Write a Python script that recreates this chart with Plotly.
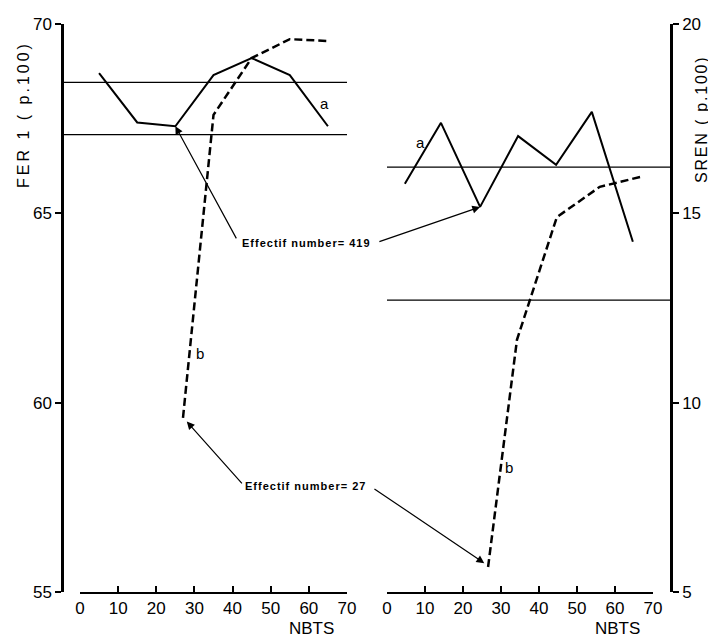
import plotly.graph_objects as go

# ---- data ----
left_x_a = [5, 15, 25, 35, 45, 55, 65]
left_a = [68.7, 67.4, 67.3, 68.65, 69.1, 68.65, 67.3]
left_x_b = [27, 35, 45, 55, 65]
left_b = [59.6, 67.6, 69.1, 69.6, 69.55]
left_refs = [68.46, 67.08]

right_x_a = [4.7, 14.2, 24.5, 34.5, 44.5, 53.9, 64.7]
right_a = [15.78, 17.39, 15.17, 17.04, 16.28, 17.68, 14.25]
right_x_b = [26.6, 34.2, 44.7, 56, 66.6]
right_b = [5.66, 11.66, 14.9, 15.7, 15.96]
right_refs = [16.22, 12.71]

x_ticks = [0, 10, 20, 30, 40, 50, 60, 70]
left_y_ticks = [55, 60, 65, 70]
right_y_ticks = [5, 10, 15, 20]

# ---- layout constants ----
# the page body has an 8px margin, so the figure is placed 8px in from the corner
OFF = 8
W, H = 716 - OFF, 637 - OFF


def px(x):
    return (x - OFF) / W


def py(y):
    return (H - (y - OFF)) / H


XD1 = [px(80), px(347)]
XD2 = [px(387), px(653)]
YD = [py(592), py(24)]
Y1POS = px(62)
Y2POS = px(671)

FONT = "Liberation Sans"
BLACK = "black"

fig = go.Figure()
solid = dict(color=BLACK, width=2)
dashed = dict(color=BLACK, width=2.5, dash="8px,4px")

fig.add_trace(go.Scatter(x=left_x_a, y=left_a, mode="lines", line=solid,
                         xaxis="x", yaxis="y", showlegend=False))
fig.add_trace(go.Scatter(x=left_x_b, y=left_b, mode="lines", line=dashed,
                         xaxis="x", yaxis="y", showlegend=False))
fig.add_trace(go.Scatter(x=right_x_a, y=right_a, mode="lines", line=solid,
                         xaxis="x2", yaxis="y2", showlegend=False))
fig.add_trace(go.Scatter(x=right_x_b, y=right_b, mode="lines", line=dashed,
                         xaxis="x2", yaxis="y2", showlegend=False))

shapes = []
for v in left_refs:
    shapes.append(dict(type="line", xref="paper", yref="y", x0=Y1POS, x1=XD1[1],
                       y0=v, y1=v, line=dict(color=BLACK, width=1.2)))
for v in right_refs:
    shapes.append(dict(type="line", xref="paper", yref="y2", x0=XD2[0], x1=Y2POS,
                       y0=v, y1=v, line=dict(color=BLACK, width=1.2)))

tickfont = dict(family=FONT, size=17, color=BLACK)
xax = dict(range=[0, 70], tickvals=x_ticks, ticks="inside", ticklen=6, tickwidth=2,
           tickcolor=BLACK, showline=True, linewidth=2, linecolor=BLACK,
           showgrid=False, zeroline=False, tickfont=tickfont, fixedrange=True,
           automargin=False)
yax = dict(showline=True, linewidth=2.5, linecolor=BLACK, ticks="outside", ticklen=6,
           tickwidth=2, tickcolor=BLACK, showgrid=False, zeroline=False,
           tickfont=tickfont, domain=YD, anchor="free", automargin=False,
           fixedrange=True)

lab = dict(family=FONT, size=15, color=BLACK)
eff = dict(family=FONT, size=11, color=BLACK, weight="bold")
titlefont = dict(family=FONT, size=16, color=BLACK)
nbtsfont = dict(family=FONT, size=17, color=BLACK)
arrow = dict(showarrow=True, arrowhead=2, arrowsize=1.3, arrowwidth=1.2,
             arrowcolor=BLACK, text="")
C = dict(xanchor="center", yanchor="middle", showarrow=False)

annotations = [
    # axis titles
    dict(text='<span style="letter-spacing:3px">FER 1 ( p.100)</span>', xref="paper",
         yref="paper", x=px(23), y=py(115), textangle=-90, font=titlefont, **C),
    dict(text='<span style="letter-spacing:1.8px">SREN ( p.100)</span>', xref="paper",
         yref="paper", x=px(701), y=py(120), textangle=-90, font=titlefont, **C),
    dict(text="NBTS", xref="paper", yref="paper", x=px(311), y=py(628),
         font=nbtsfont, **C),
    dict(text="NBTS", xref="paper", yref="paper", x=px(617), y=py(628),
         font=nbtsfont, **C),
    # series labels
    dict(text="a", xref="x", yref="y", x=64, y=67.9, font=lab, **C),
    dict(text="b", xref="x", yref="y", x=31.5, y=61.3, font=lab, **C),
    dict(text="a", xref="x2", yref="y2", x=8.7, y=16.86, font=lab, **C),
    dict(text="b", xref="x2", yref="y2", x=32, y=8.3, font=lab, **C),
    # effectif texts
    dict(text='<span style="letter-spacing:1px">Effectif number= 419</span>',
         xref="paper", yref="paper", x=px(240), y=py(243), xanchor="left",
         yanchor="middle", showarrow=False, font=eff),
    dict(text='<span style="letter-spacing:1px">Effectif number= 27</span>',
         xref="paper", yref="paper", x=px(243), y=py(486), xanchor="left",
         yanchor="middle", showarrow=False, font=eff),
    # arrows
    dict(xref="x", yref="y", x=left_x_a[2], y=left_a[2], axref="x", ayref="y",
         ax=41.2, ay=64.3, **arrow),
    dict(xref="x2", yref="y2", x=right_x_a[2], y=right_a[2], axref="x2", ayref="y2",
         ax=-2.4, ay=14.24, **arrow),
    dict(xref="x", yref="y", x=left_x_b[0] + 1, y=left_b[0] - 0.1, axref="x", ayref="y",
         ax=42.8, ay=57.83, **arrow),
    dict(xref="x2", yref="y2", x=right_x_b[0] - 1, y=right_b[0] + 0.1, axref="x2",
         ayref="y2", ax=-3.7, ay=7.75, **arrow),
]

fig.update_layout(
    template="none",
    width=W, height=H,
    margin=dict(l=0, r=0, t=0, b=0, pad=0, autoexpand=False),
    paper_bgcolor="white", plot_bgcolor="white",
    font=dict(family=FONT, color=BLACK),
    xaxis=dict(domain=XD1, anchor="y", **xax),
    yaxis=dict(range=[55, 70], tickvals=left_y_ticks, position=Y1POS, side="left",
               **yax),
    xaxis2=dict(domain=XD2, anchor="y2", **xax),
    yaxis2=dict(range=[5, 20], tickvals=right_y_ticks, position=Y2POS, side="right",
                **yax),
    shapes=shapes,
    annotations=annotations,
    showlegend=False,
)

fig.write_html("out.html")
